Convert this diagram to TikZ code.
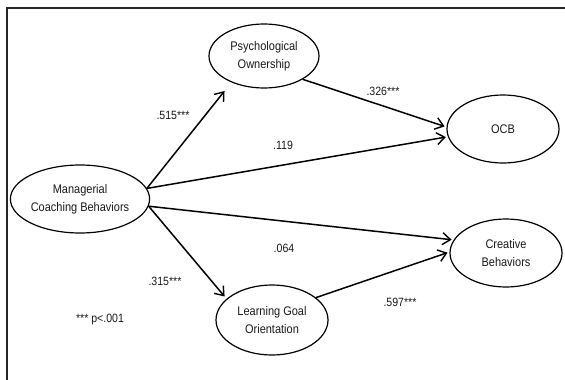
\documentclass[tikz,border=0pt]{standalone}
\usepackage{fontspec}
\setmainfont{Liberation Sans}[FakeStretch=0.88]
\usetikzlibrary{shapes.geometric,arrows.meta}
\begin{document}
\begin{tikzpicture}[x=1pt,y=-1pt,
  latent/.style={draw=black, line width=1.2pt, ellipse, inner sep=0pt, align=center,
    font=\fontsize{12.5}{18}\selectfont, text=black!90},
  pathar/.style={draw=black, line width=1.5pt,
    -{Straight Barb[length=8pt,width=12pt,line width=1.4pt]}},
  coef/.style={font=\fontsize{12}{13}\selectfont, text=black!90, inner sep=0pt},
  frame/.style={draw=black!85, line width=1.1pt}]
\useasboundingbox (0,0) rectangle (565,380);
\draw[frame] (7,380) coordinate (fb) -- (7,8) coordinate (fc) -- (565,8) coordinate (fr);

\node[latent, minimum width=114pt, minimum height=68pt] (mcb) at (80,199) {Managerial\\Coaching Behaviors};
\node[latent, minimum width=110pt, minimum height=64pt] (po) at (264,56) {Psychological\\Ownership};
\node[latent, minimum width=112pt, minimum height=68pt] (ocb) at (503,129) {OCB};
\node[latent, minimum width=112pt, minimum height=68pt] (cb) at (506,253) {Creative\\Behaviors};
\node[latent, minimum width=112pt, minimum height=70pt] (lgo) at (272,320) {Learning Goal\\Orientation};

\draw[pathar, shorten >=11pt] (mcb.9) -- (po.219);
\draw[pathar, shorten >=2pt] (mcb.9) -- (ocb.188);
\draw[pathar, shorten >=2pt] (po.-31) -- (ocb.178);
\draw[pathar, shorten >=2pt] (mcb.-6) -- (cb.166);
\draw[pathar, shorten >=2pt] (lgo.27) -- (cb.179);
\draw[pathar, shorten >=3pt] (mcb.-6) -- (lgo.155);

\node[coef] (c1) at (173,115) {.515***};
\node[coef] (c2) at (383,91) {.326***};
\node[coef] (c3) at (283,145) {.119};
\node[coef] (c4) at (284,248) {.064};
\node[coef] (c5) at (165,281) {.315***};
\node[coef] (c6) at (400,302) {.597***};
\node[coef] (c7) at (100,320) {*** p<.001};
\end{tikzpicture}
\end{document}
